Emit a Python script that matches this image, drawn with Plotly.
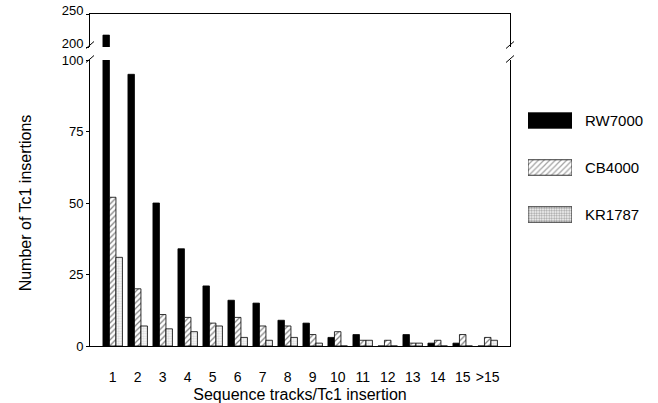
import plotly.graph_objects as go

categories = ["1", "2", "3", "4", "5", "6", "7", "8", "9", "10", "11", "12", "13", "14", "15", ">15"]
rw7000 = [218, 95, 50, 34, 21, 16, 15, 9, 8, 3, 4, 0, 4, 1, 1, 0]
cb4000 = [52, 20, 11, 10, 8, 10, 7, 7, 4, 5, 2, 2, 1, 2, 4, 3]
kr1787 = [31, 7, 6, 5, 7, 3, 2, 3, 1, 0, 2, 0, 1, 0, 0, 2]
series_names = ["RW7000", "CB4000", "KR1787"]
lower_ticks = [0, 25, 50, 75, 100]
upper_ticks = [200, 250]
x_title = "Sequence tracks/Tc1 insertion"
y_title = "Number of Tc1 insertions"

FONT = "Arial, Liberation Sans, Helvetica, sans-serif"
W, H = 658, 403
ML, MR, MT, MB = 90, 10, 14, 57
PW, PH = W - ML - MR, H - MT - MB


def px_x(p):
    return (p - ML) / PW


def px_y(p):
    return (H - MB - p) / PH


DOT = "#b4b4b4"
styles = [
    dict(color="black", pattern=dict(shape="")),
    dict(color="white", pattern=dict(shape="/", fgcolor="black", bgcolor="white", size=4, solidity=0.3)),
    dict(color="white", pattern=dict(shape=".", fgcolor=DOT, bgcolor="white", size=2.5, solidity=0.5)),
]
data = [rw7000, cb4000, kr1787]

fig = go.Figure()
for ax in [("x", "y"), ("x2", "y2")]:
    for name, vals, st in zip(series_names, data, styles):
        fig.add_trace(go.Bar(
            x=categories, y=vals, name=name, xaxis=ax[0], yaxis=ax[1],
            marker=dict(color=st["color"], pattern=st["pattern"],
                        line=dict(color="black", width=0.8)),
            showlegend=False, hoverinfo="skip",
        ))

# legend swatches drawn as bars on their own small axis
fig.add_trace(go.Bar(
    x=[1, 1, 1], y=series_names, orientation="h", xaxis="x3", yaxis="y3",
    width=0.33, showlegend=False, hoverinfo="skip",
    marker=dict(
        color=["black", "white", "white"],
        pattern=dict(shape=["", "/", "."], fgcolor=["black", "black", DOT],
                     bgcolor=["black", "white", "white"], size=[4, 4, 2.5],
                     solidity=[0.3, 0.3, 0.5]),
        line=dict(color="black", width=0.8),
    ),
))
for name in series_names:
    fig.add_annotation(x=1, y=name, xref="x3", yref="y3", text=name, showarrow=False,
                       xanchor="left", xshift=11, font=dict(size=15, color="black", family=FONT))

xdom = [0, px_x(510)]
low_dom = [0, px_y(60)]
up_dom = [px_y(47), 1]
xr = [-0.908, -0.908 + (510 - 90) / 25]

axis_common = dict(showgrid=False, zeroline=False, linecolor="black", linewidth=1,
                   automargin=False)
xfont = dict(size=14, color="black", family=FONT)
yfont = dict(size=13, color="black", family=FONT)

fig.update_layout(
    width=W, height=H,
    margin=dict(l=ML, r=MR, t=MT, b=MB),
    paper_bgcolor="white", plot_bgcolor="white",
    barmode="group", bargap=0.22, bargroupgap=0,
    font=dict(family=FONT, color="black"),
    xaxis=dict(domain=xdom, anchor="y", type="category", range=xr, showline=True,
               ticks="", ticklabelstandoff=18, tickfont=xfont,
               title=dict(text=x_title, font=dict(size=16, family=FONT), standoff=9),
               **axis_common),
    yaxis=dict(domain=low_dom, anchor="x", range=[0, 100], tickvals=lower_ticks,
               showline=True, mirror=True, ticks="outside", ticklen=3, tickcolor="black",
               tickfont=yfont,
               title=dict(text=y_title, font=dict(size=16, family=FONT), standoff=26),
               **axis_common),
    xaxis2=dict(domain=xdom, anchor="y2", type="category", range=xr, matches="x",
                showline=True, side="top", showticklabels=False, ticks="", **axis_common),
    yaxis2=dict(domain=up_dom, anchor="x2", range=[200, 250], tickvals=upper_ticks,
                showline=True, mirror=True, ticks="outside", ticklen=3, tickcolor="black",
                tickfont=yfont, ticklabelshift=-4, **axis_common),
    xaxis3=dict(domain=[px_x(528), px_x(572)], anchor="y3", range=[0, 1], visible=False),
    yaxis3=dict(domain=[px_y(238), px_y(97)], anchor="x3", type="category",
                autorange="reversed", visible=False),
)

# axis break marks
for xc in (90, 510):
    for yc in (45, 59):
        fig.add_shape(type="line", xref="paper", yref="paper",
                      x0=px_x(xc - 4), y0=px_y(yc + 3.5), x1=px_x(xc + 4), y1=px_y(yc - 3.5),
                      line=dict(color="black", width=1))

fig.write_html("out.html", config={"displayModeBar": False, "staticPlot": True},
               post_script="document.body.style.margin='0';")
